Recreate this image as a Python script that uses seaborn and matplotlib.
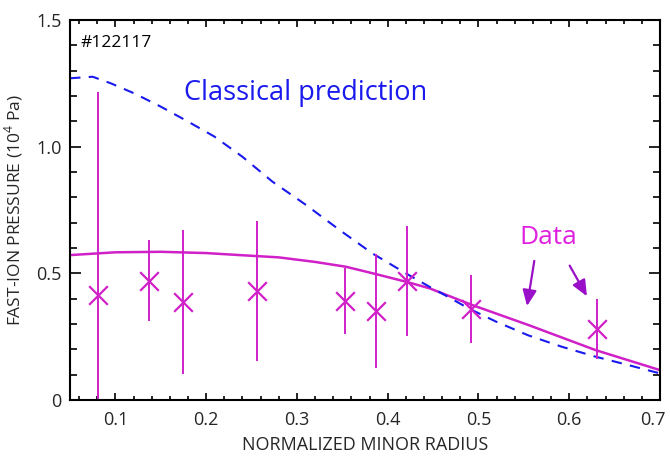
import numpy as np
import pandas as pd
import matplotlib
matplotlib.use("Agg")
import matplotlib.pyplot as plt
import matplotlib.transforms as mtransforms
import seaborn as sns
from matplotlib.ticker import MultipleLocator, FixedLocator, FixedFormatter

# ---- data ----
data_r = [0.081, 0.137, 0.174, 0.256, 0.353, 0.387, 0.421, 0.492, 0.631]
data_p = [0.414, 0.47, 0.388, 0.43, 0.39, 0.353, 0.468, 0.36, 0.28]
data_err = [0.8, 0.16, 0.285, 0.275, 0.13, 0.225, 0.217, 0.135, 0.12]

fit_r = [0.05, 0.1, 0.15, 0.2, 0.237, 0.28, 0.32, 0.354, 0.387, 0.42, 0.446,
         0.493, 0.555, 0.629, 0.7]
fit_p = [0.572, 0.583, 0.585, 0.58, 0.572, 0.563, 0.545, 0.526, 0.497, 0.467,
         0.441, 0.375, 0.296, 0.197, 0.118]

class_r = [0.05, 0.075, 0.095, 0.121, 0.15, 0.18, 0.209, 0.24, 0.273, 0.31,
           0.347, 0.383, 0.42, 0.446, 0.46, 0.49, 0.519, 0.555, 0.592, 0.629,
           0.665, 0.7]
class_p = [1.27, 1.276, 1.25, 1.21, 1.158, 1.099, 1.04, 0.96, 0.862, 0.77,
           0.671, 0.579, 0.50, 0.447, 0.42, 0.36, 0.31, 0.255, 0.21, 0.171,
           0.138, 0.105]

y_ticks = [0, 0.5, 1.0, 1.5]
y_ticklabels = ["0", "0.5", "1.0", "1.5"]
x_ticks = [0.1, 0.2, 0.3, 0.4, 0.5, 0.6, 0.7]
x_ticklabels = ["0.1", "0.2", "0.3", "0.4", "0.5", "0.6", "0.7"]

sns.set_theme(style="ticks")
plt.rcParams["font.family"] = ["Open Sans", "DejaVu Sans"]
plt.rcParams["mathtext.fontset"] = "custom"
plt.rcParams["mathtext.rm"] = "Open Sans"

MAG = "#d020c8"
BLUE = "#1a1aee"
PURPLE = "#9a10c8"

fig = plt.figure(figsize=(6.7, 4.57), dpi=100)
ax = fig.add_axes([70/670, 57/457, 590/670, 380/457])

df_fit = pd.DataFrame({"r": fit_r, "p": fit_p})
df_cls = pd.DataFrame({"r": class_r, "p": class_p})
sns.lineplot(data=df_fit, x="r", y="p", ax=ax, color=MAG, lw=1.8, sort=False)
sns.lineplot(data=df_cls, x="r", y="p", ax=ax, color=BLUE, lw=1.5, sort=False,
             dashes=False)
ax.lines[-1].set_dashes([5, 4])

ax.errorbar(data_r, data_p, yerr=data_err, fmt="none", ecolor=MAG, elinewidth=1.4,
            capsize=0)
sns.scatterplot(x=data_r, y=data_p, ax=ax, marker="x", s=180, color=MAG,
                linewidth=1.6, zorder=5)

ax.set_xlim(0.05, 0.7)
ax.set_ylim(0, 1.5)
ax.xaxis.set_major_locator(FixedLocator(x_ticks))
ax.xaxis.set_major_formatter(FixedFormatter(x_ticklabels))
ax.xaxis.set_minor_locator(MultipleLocator(0.02))
ax.yaxis.set_major_locator(FixedLocator(y_ticks))
ax.yaxis.set_major_formatter(FixedFormatter(y_ticklabels))
ax.yaxis.set_minor_locator(MultipleLocator(0.1))

for s in ax.spines.values():
    s.set_linewidth(1.5)
    s.set_color("black")
    s.set_visible(True)

ax.tick_params(which="both", direction="in", top=True, right=True, width=1.2,
               color="black")
ax.tick_params(axis="x", which="major", length=5, labelsize=13, pad=8)
ax.tick_params(axis="x", which="minor", length=2.8)
ax.tick_params(axis="y", which="major", length=8, labelsize=13, pad=6)
ax.tick_params(axis="y", which="minor", length=5)

# keep the last x tick label inside the figure
fig.canvas.draw()
last = ax.get_xticklabels()[-1]
last.set_transform(last.get_transform() +
                   mtransforms.ScaledTranslation(-7/100, 0, fig.dpi_scale_trans))

ax.set_xlabel("NORMALIZED MINOR RADIUS", fontsize=13, labelpad=5)
ax.set_ylabel(r"FAST-ION PRESSURE (10$^{4}$ Pa)", fontsize=12.5, labelpad=8)

ax.text(0.062, 1.41, "#122117", fontsize=12.5, color="black", va="center")
ax.text(0.176, 1.21, "Classical prediction", fontsize=19.5, color=BLUE, va="center")
ax.text(0.545, 0.64, "Data", fontsize=19, color="#e020e0", va="center")

ax.annotate("", xy=(0.553, 0.36), xytext=(0.562, 0.56),
            arrowprops=dict(arrowstyle="-|>,head_length=0.8,head_width=0.35",
                            color=PURPLE, lw=1.6))
ax.annotate("", xy=(0.621, 0.40), xytext=(0.599, 0.54),
            arrowprops=dict(arrowstyle="-|>,head_length=0.8,head_width=0.35",
                            color=PURPLE, lw=1.6))

ax.set_facecolor("white")
fig.patch.set_facecolor("white")
fig.savefig("out.png", dpi=100)
